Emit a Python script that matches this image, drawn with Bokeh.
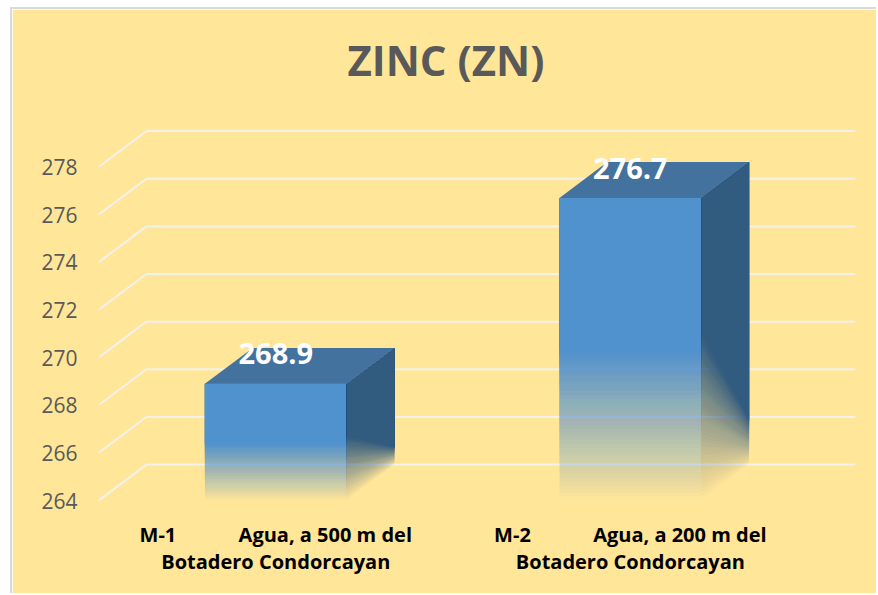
import numpy as np
from bokeh.plotting import figure
from bokeh.models import Range1d, FixedTicker, ColumnDataSource
from bokeh.core.properties import value
from bokeh.embed import file_html
from bokeh.resources import INLINE

# ---- data ----
sample_ids = ["M-1", "M-2"]
sample_desc = ["Agua, a 500 m del", "Agua, a 200 m del"]
sample_place = ["Botadero Condorcayan", "Botadero Condorcayan"]
zinc = [268.9, 276.7]
y_ticks = [264, 266, 268, 270, 272, 274, 276, 278]
y_base = 264

# ---- style constants ----
BG = "#FFE699"
FRONT = "#5B9BD5"
TOP = "#44729E"
SIDE = "#3A6488"
GRID = "#F2F1EC"
BAR_W = 0.4
DX = 0.135   # pseudo-3D depth (x data units)
DY = 1.51    # pseudo-3D depth (y data units)
N = 40       # gradient layers

xc = [i + 0.5 for i in range(len(zinc))]
gap = "\u00a0" * 12
labels = {x: f"{a}{gap}{b}\n{c}" for x, a, b, c in zip(xc, sample_ids, sample_desc, sample_place)}

p = figure(width=866, height=586, output_backend="svg", toolbar_location=None,
           x_range=Range1d(0, 2 + DX), y_range=Range1d(263.5, 280.5),
           min_border_left=86, min_border_right=23, min_border_top=98, min_border_bottom=83)
p.margin = (7, 0, 0, 10)
p.styles = {"border-top": "2px solid #D9D9D9", "border-left": "2px solid #D9D9D9"}
p.background_fill_color = BG
p.border_fill_color = BG
p.outline_line_color = BG
p.outline_line_width = 2
p.xgrid.visible = False
p.ygrid.visible = False

# title
p.title.text = "ZINC (ZN)"
p.title.text_font = "Open Sans"
p.title.text_font_size = "42px"
p.title.text_font_style = "bold"
p.title.text_color = "#595959"
p.title.align = "left"
p.title.vertical_align = "top"
p.title.offset = 249
p.title.standoff = 35

# axes
ya = p.yaxis[0]
ya.ticker = FixedTicker(ticks=y_ticks)
ya.axis_line_color = None
ya.major_tick_line_color = None
ya.minor_tick_line_color = None
ya.major_tick_out = 0
ya.major_tick_in = 0
ya.major_label_standoff = 21
ya.major_label_text_font = "Open Sans"
ya.major_label_text_font_size = "21px"
ya.major_label_text_color = "#595959"

xa = p.xaxis[0]
xa.ticker = FixedTicker(ticks=xc)
xa.major_label_overrides = labels
xa.axis_line_color = None
xa.major_tick_line_color = None
xa.minor_tick_line_color = None
xa.major_tick_out = 0
xa.major_tick_in = 0
xa.major_label_standoff = 8
xa.major_label_text_font = "Open Sans"
xa.major_label_text_font_size = "20px"
xa.major_label_text_font_style = "bold"
xa.major_label_text_color = "#000000"
xa.major_label_text_line_height = 1.01

# perspective gridlines
gx = [[0, DX, 2 + DX] for _ in y_ticks]
gy = [[t, t + DY, t + DY] for t in y_ticks]
p.multi_line(gx, gy, line_color=GRID, line_width=2)

# gradient layer alphas (nested regions, no seams)
targets = [1 - (j - 0.5) / N for j in range(1, N + 1)]
alphas = [0.0] * (N + 1)
P = 1.0
for j in range(N, 0, -1):
    a = 1 - (1 - targets[j - 1]) / P
    alphas[j] = a
    P *= (1 - a)
alphas[0] = 1.0


def face_layers(mapf, vstart):
    xs, ys, al = [], [], []
    for k in range(N + 1):
        v0 = vstart(0) + (k / N) * (1 - vstart(0))
        v1 = vstart(1) + (k / N) * (1 - vstart(1))
        pts = [(0, 0), (1, 0), (1, v1), (0, v0)]
        mx, my = zip(*[mapf(u, v) for u, v in pts])
        xs.append(list(mx))
        ys.append(list(my))
        al.append(alphas[k])
    return xs, ys, al


fx, fy, fa = [], [], []
sx, sy, sa = [], [], []
tx, ty = [], []
for x, val in zip(xc, zinc):
    xl, xr = x - BAR_W / 2, x + BAR_W / 2
    H = val - y_base
    a, b, c = face_layers(lambda u, v: (xl + u * (xr - xl), val - v * H), lambda u: 0.5)
    fx += a; fy += b; fa += c
    a, b, c = face_layers(lambda u, v: (xr + u * DX, val - v * H + u * DY), lambda u: 0.45 + 0.4 * u)
    sx += a; sy += b; sa += c
    tx.append([xl, xr, xr + DX, xl + DX])
    ty.append([val, val, val + DY, val + DY])

p.patches(fx, fy, fill_color=FRONT, fill_alpha=fa, line_color=None)
p.patches(sx, sy, fill_color=SIDE, fill_alpha=sa, line_color=None)
p.patches(tx, ty, fill_color=TOP, line_color=None)

# data labels
src = ColumnDataSource(dict(x=xc, y=zinc, t=[f"{v:.1f}" for v in zinc]))
p.text(x="x", y="y", text="t", source=src, text_align="center", text_baseline="middle",
       y_offset=-30, text_color="white", text_font=value("Open Sans"),
       text_font_size="29px", text_font_style="bold")

open("out.html", "w").write(file_html(p, INLINE))
